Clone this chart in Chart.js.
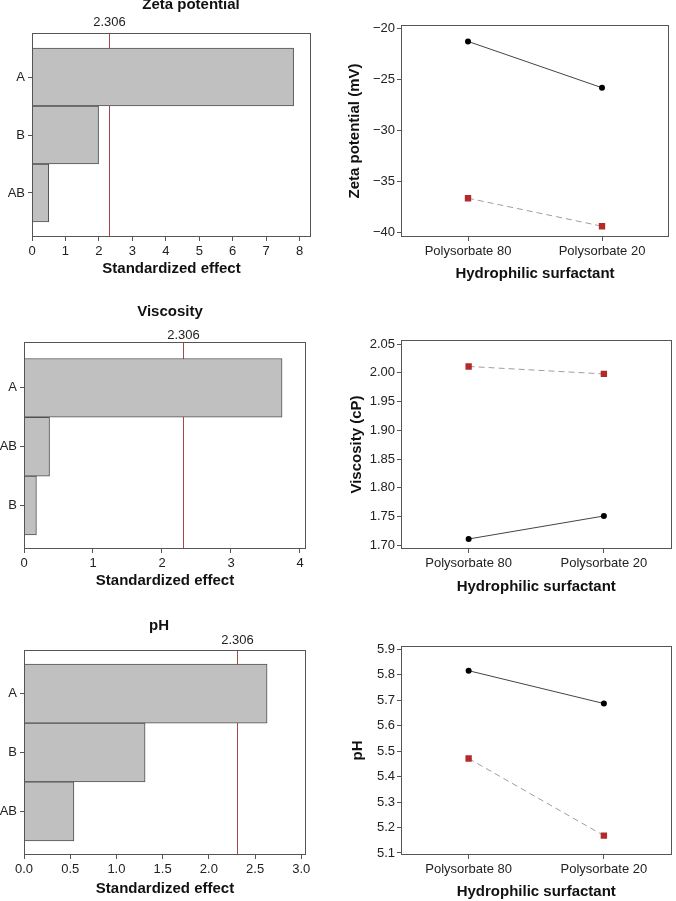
<!DOCTYPE html>
<html>
<head>
<meta charset="utf-8">
<script src="https://cdn.jsdelivr.net/npm/chart.js@4.4.1/dist/chart.umd.min.js"></script>
<style>
  body { margin: 0; background: #fff; }
  #fig { position: relative; width: 676px; height: 901px; }
  #fig canvas { position: absolute; }
</style>
</head>
<body>
<div id="fig"></div>
<script>
// Pareto charts: standardized effects of the terms
const critEffect = 2.306;
const zetaTerms = ['A', 'B', 'AB'];
const zetaEffects = [7.82, 1.99, 0.50];
const zetaEffectTicks = [0, 1, 2, 3, 4, 5, 6, 7, 8];
const viscTerms = ['A', 'AB', 'B'];
const viscEffects = [3.74, 0.37, 0.18];
const viscEffectTicks = [0, 1, 2, 3, 4];
const phTerms = ['A', 'B', 'AB'];
const phEffects = [2.63, 1.31, 0.54];
const phEffectTicks = [0, 0.5, 1, 1.5, 2, 2.5, 3];

// main effect plots against the hydrophilic surfactant
const surfactants = ['Polysorbate 80', 'Polysorbate 20'];
const zetaCircle = [-21.25, -25.8];
const zetaSquare = [-36.65, -39.4];
const zetaTicks = [-40, -35, -30, -25, -20];
const viscCircle = [1.711, 1.751];
const viscSquare = [2.011, 1.998];
const viscTicks = [1.70, 1.75, 1.80, 1.85, 1.90, 1.95, 2.00, 2.05];
const phCircle = [5.816, 5.687];
const phSquare = [5.471, 5.168];
const phTicks = [5.1, 5.2, 5.3, 5.4, 5.5, 5.6, 5.7, 5.8, 5.9];

const FAMILY = "'Liberation Sans', Arial, sans-serif";
const tickFont = { family: FAMILY, size: 13 };
const boldFont = { family: FAMILY, size: 15, weight: 'bold' };
const AXIS = '#555';
const fig = document.getElementById('fig');

function addCanvas(box) {
  const c = document.createElement('canvas');
  c.width = box[2];
  c.height = box[3];
  c.style.left = box[0] + 'px';
  c.style.top = box[1] + 'px';
  fig.appendChild(c);
  return c;
}

// force the axis size so the plot box lands where it should
function fixSize(s, key, v) {
  s[key] = v;
  s.paddingLeft = s.paddingRight = s.paddingTop = s.paddingBottom = 0;
}

const grid = { drawOnChartArea: false, drawTicks: true, tickLength: 4, color: AXIS, offset: false };

const frame = {
  id: 'frame',
  afterDraw(chart) {
    const { ctx, chartArea: a } = chart;
    ctx.save();
    ctx.strokeStyle = AXIS;
    ctx.lineWidth = 1;
    ctx.strokeRect(Math.round(a.left) + 0.5, Math.round(a.top) + 0.5,
      Math.round(a.right - a.left) - 1, Math.round(a.bottom - a.top) - 1);
    ctx.restore();
  }
};

function pareto(p) {
  const [cx, cy, cw, ch] = p.box;
  const [l, t, r, b] = p.plot;
  const xH = p.xTitleY + 9 - b;
  const refLine = {
    id: 'refLine',
    beforeDatasetsDraw(chart) {
      const { ctx, chartArea: a } = chart;
      const x = Math.round(chart.scales.x.getPixelForValue(critEffect)) + 0.5;
      ctx.save();
      ctx.strokeStyle = '#a94646';
      ctx.lineWidth = 1;
      ctx.beginPath();
      ctx.moveTo(x, a.top);
      ctx.lineTo(x, a.bottom);
      ctx.stroke();
      ctx.fillStyle = '#222';
      ctx.textAlign = 'center';
      ctx.textBaseline = 'alphabetic';
      ctx.font = '13px ' + FAMILY;
      ctx.fillText(critEffect.toFixed(3), x, p.labelY - cy);
      ctx.font = 'bold 15px ' + FAMILY;
      ctx.fillStyle = '#111';
      ctx.fillText(p.title, p.titleX - cx, p.titleY - cy);
      ctx.restore();
    }
  };
  new Chart(addCanvas(p.box), {
    type: 'bar',
    data: {
      datasets: [{
        data: p.effects.map((v, i) => ({ x: v, y: i })),
        backgroundColor: '#c0c0c0',
        borderColor: '#505050',
        borderWidth: 1,
        barPercentage: 1,
        categoryPercentage: 1
      }]
    },
    options: {
      indexAxis: 'y',
      responsive: false,
      animation: false,
      layout: { padding: { left: 0, top: t - cy, right: cx + cw - r, bottom: cy + ch - b - xH } },
      plugins: { legend: { display: false }, tooltip: { enabled: false } },
      scales: {
        x: {
          type: 'linear', min: 0, max: p.xMax, offset: false,
          afterBuildTicks: s => { s.ticks = p.ticks.map(v => ({ value: v })); },
          afterFit: s => fixSize(s, 'height', xH),
          ticks: { font: tickFont, color: '#222', padding: 3, autoSkip: false, maxRotation: 0,
            callback: v => v.toFixed(p.dec) },
          grid: grid,
          border: { display: false },
          title: { display: true, text: 'Standardized effect', font: boldFont, color: '#111', padding: 0 }
        },
        y: {
          type: 'linear', reverse: true, min: p.yMin, max: p.yMax, offset: false,
          afterBuildTicks: s => { s.ticks = p.terms.map((_, i) => ({ value: i })); },
          afterFit: s => fixSize(s, 'width', l - cx),
          ticks: { font: tickFont, color: '#222', padding: 3, autoSkip: false,
            callback: v => p.terms[v] },
          grid: grid,
          border: { display: false }
        }
      }
    },
    plugins: [refLine, frame]
  });
}

function means(p) {
  const [cx, cy, cw, ch] = p.box;
  const [l, t, r, b] = p.plot;
  const xH = p.xTitleY + 9 - b;
  const padLeft = p.yTitleX - 9 - cx;
  new Chart(addCanvas(p.box), {
    type: 'line',
    data: {
      labels: surfactants,
      datasets: [{
        data: p.circle,
        borderColor: '#444',
        borderWidth: 1,
        pointStyle: 'circle',
        pointRadius: 3,
        pointBackgroundColor: '#000',
        pointBorderColor: '#000',
        pointBorderWidth: 0
      }, {
        data: p.square,
        borderColor: '#a89a9a',
        borderWidth: 1,
        borderDash: [6, 4],
        pointStyle: 'rect',
        pointRadius: 4.5,
        pointBackgroundColor: '#b32a2a',
        pointBorderColor: '#b32a2a',
        pointBorderWidth: 0
      }]
    },
    options: {
      responsive: false,
      animation: false,
      layout: { padding: { left: padLeft, top: t - cy, right: cx + cw - r, bottom: cy + ch - b - xH } },
      plugins: { legend: { display: false }, tooltip: { enabled: false } },
      scales: {
        x: {
          type: 'category', offset: true,
          afterFit: s => fixSize(s, 'height', xH),
          ticks: { font: tickFont, color: '#222', padding: 3, autoSkip: false, maxRotation: 0 },
          grid: grid,
          border: { display: false },
          title: { display: true, text: 'Hydrophilic surfactant', font: boldFont, color: '#111', padding: 0 }
        },
        y: {
          type: 'linear', min: p.yMin, max: p.yMax,
          afterBuildTicks: s => { s.ticks = p.ticks.map(v => ({ value: v })); },
          afterFit: s => fixSize(s, 'width', l - cx - padLeft),
          ticks: { font: tickFont, color: '#222', padding: 2, autoSkip: false,
            callback: v => (v < 0 ? '\u2212' : '') + Math.abs(v).toFixed(p.dec) },
          grid: grid,
          border: { display: false },
          title: { display: true, text: p.yTitle, font: boldFont, color: '#111', padding: 0 }
        }
      }
    },
    plugins: [frame]
  });
}

pareto({ box: [0, 0, 338, 290], plot: [32, 33, 311, 237], title: 'Zeta potential', titleX: 191, titleY: 9,
  labelY: 26, xTitleY: 269, terms: zetaTerms, effects: zetaEffects, ticks: zetaEffectTicks,
  xMax: 8.34, yMin: -0.76, yMax: 2.76, dec: 0 });
means({ box: [338, 0, 338, 290], plot: [401, 25, 669, 237], yTitle: 'Zeta potential (mV)', yTitleX: 355,
  xTitleY: 273.5, circle: zetaCircle, square: zetaSquare, ticks: zetaTicks, yMin: -40.46, yMax: -19.64, dec: 0 });

pareto({ box: [0, 290, 338, 300], plot: [24, 342, 306, 549], title: 'Viscosity', titleX: 170, titleY: 316,
  labelY: 339, xTitleY: 581, terms: viscTerms, effects: viscEffects, ticks: viscEffectTicks,
  xMax: 4.087, yMin: -0.78, yMax: 2.74, dec: 0 });
means({ box: [338, 290, 338, 310], plot: [401, 340, 674, 549], yTitle: 'Viscosity (cP)', yTitleX: 356.7,
  xTitleY: 586.5, circle: viscCircle, square: viscSquare, ticks: viscTicks, yMin: 1.6936, yMax: 2.057, dec: 2 });

pareto({ box: [0, 590, 338, 311], plot: [24, 650, 306, 855], title: 'pH', titleX: 159, titleY: 630,
  labelY: 644, xTitleY: 889, terms: phTerms, effects: phEffects, ticks: phEffectTicks,
  xMax: 3.051, yMin: -0.74, yMax: 2.74, dec: 1 });
means({ box: [338, 600, 338, 301], plot: [401, 646, 673, 855], yTitle: 'pH', yTitleX: 357.5,
  xTitleY: 892, circle: phCircle, square: phSquare, ticks: phTicks, yMin: 5.092, yMax: 5.913, dec: 1 });
</script>
</body>
</html>
